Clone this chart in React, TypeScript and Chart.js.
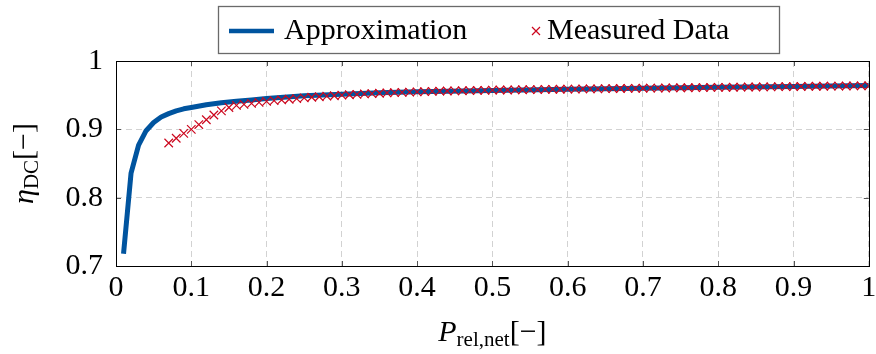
import React, { useEffect, useRef } from "react";
import { Chart, registerables } from "chart.js";
Chart.register(...registerables);

const approxP = [0.01, 0.02, 0.03, 0.04, 0.05, 0.06, 0.07, 0.08, 0.09, 0.10, 0.12, 0.14, 0.16, 0.18, 0.20, 0.25, 0.30, 0.35, 0.40, 0.50, 0.60, 0.70, 0.80, 0.90, 1.00];
const approxEta = [0.718, 0.836, 0.877, 0.898, 0.910, 0.918, 0.923, 0.927, 0.930, 0.932, 0.936, 0.939, 0.941, 0.943, 0.945, 0.949, 0.9515, 0.9535, 0.955, 0.957, 0.9588, 0.9602, 0.9615, 0.9628, 0.964];

const measuredP = [
  0.07, 0.08, 0.09, 0.10, 0.11, 0.12, 0.13, 0.14, 0.15, 0.16, 0.17, 0.18, 0.19, 0.20,
  0.21, 0.22, 0.23, 0.24, 0.25, 0.26, 0.27, 0.28, 0.29, 0.30, 0.31, 0.32, 0.33, 0.34,
  0.35, 0.36, 0.37, 0.38, 0.39, 0.40, 0.41, 0.42, 0.43, 0.44, 0.45, 0.46, 0.47, 0.48,
  0.49, 0.50, 0.51, 0.52, 0.53, 0.54, 0.55, 0.56, 0.57, 0.58, 0.59, 0.60, 0.61, 0.62,
  0.63, 0.64, 0.65, 0.66, 0.67, 0.68, 0.69, 0.70, 0.71, 0.72, 0.73, 0.74, 0.75, 0.76,
  0.77, 0.78, 0.79, 0.80, 0.81, 0.82, 0.83, 0.84, 0.85, 0.86, 0.87, 0.88, 0.89, 0.90,
  0.91, 0.92, 0.93, 0.94, 0.95, 0.96, 0.97, 0.98, 0.99, 1.00,
];
const measuredEta = [
  0.880, 0.887, 0.894, 0.900, 0.907, 0.914, 0.921, 0.927, 0.932, 0.935, 0.9365, 0.938, 0.9395, 0.941,
  0.942, 0.943, 0.944, 0.945, 0.946, 0.947, 0.9477, 0.9485, 0.9492, 0.950, 0.9506, 0.9512, 0.9518, 0.9523,
  0.9528, 0.9533, 0.9537, 0.9541, 0.9545, 0.9549, 0.9552, 0.9555, 0.9558, 0.9561, 0.9563, 0.9565, 0.9567, 0.9569,
  0.9571, 0.9573, 0.9575, 0.9576, 0.9578, 0.9579, 0.9581, 0.9582, 0.9584, 0.9585, 0.9587, 0.9588, 0.9589, 0.9591,
  0.9592, 0.9593, 0.9595, 0.9596, 0.9597, 0.9599, 0.9600, 0.9601, 0.9603, 0.9604, 0.9605, 0.9606, 0.9608, 0.9609,
  0.9610, 0.9611, 0.9613, 0.9614, 0.9615, 0.9616, 0.9618, 0.9619, 0.9620, 0.9621, 0.9622, 0.9624, 0.9625, 0.9626,
  0.9627, 0.9628, 0.9630, 0.9631, 0.9632, 0.9633, 0.9634, 0.9635, 0.9637, 0.9638,
];

const xTickValues = [0, 0.1, 0.2, 0.3, 0.4, 0.5, 0.6, 0.7, 0.8, 0.9, 1];
const xTickLabels = ["0", "0.1", "0.2", "0.3", "0.4", "0.5", "0.6", "0.7", "0.8", "0.9", "1"];
const yTickValues = [0.7, 0.8, 0.9, 1];
const yTickLabels = ["0.7", "0.8", "0.9", "1"];

const seriesLabels = ["Approximation", "Measured Data"];
const BLUE = "#00549F";
const RED = "#CC071E";
const FONT = "'Liberation Serif', 'Times New Roman', serif";

type Part = { t: string; font: string; dy: number };

function drawParts(ctx: CanvasRenderingContext2D, parts: Part[], cx: number, baseY: number) {
  let total = 0;
  const widths = parts.map((p) => {
    ctx.font = p.font;
    const w = ctx.measureText(p.t).width;
    total += w;
    return w;
  });
  let x = cx - total / 2;
  parts.forEach((p, i) => {
    ctx.font = p.font;
    ctx.fillText(p.t, x, baseY + p.dy);
    x += widths[i];
  });
}

const decorPlugin = {
  id: "decor",
  afterDraw(chart: any) {
    const { ctx, chartArea } = chart;
    const { left, right, top, bottom } = chartArea;
    const xs = chart.scales.x;
    const ys = chart.scales.y;
    ctx.save();
    // inner ticks
    ctx.strokeStyle = "#555";
    ctx.lineWidth = 1;
    const tl = 5;
    ctx.beginPath();
    xTickValues.forEach((v) => {
      const px = Math.round(xs.getPixelForValue(v)) + 0.5;
      ctx.moveTo(px, bottom);
      ctx.lineTo(px, bottom - tl);
      ctx.moveTo(px, top);
      ctx.lineTo(px, top + tl);
    });
    yTickValues.forEach((v) => {
      const py = Math.round(ys.getPixelForValue(v)) + 0.5;
      ctx.moveTo(left, py);
      ctx.lineTo(left + tl, py);
      ctx.moveTo(right, py);
      ctx.lineTo(right - tl, py);
    });
    ctx.stroke();
    // frame
    ctx.strokeStyle = "#000";
    ctx.lineWidth = 1;
    ctx.strokeRect(Math.round(left) + 0.5, Math.round(top) + 0.5, Math.round(right - left), Math.round(bottom - top));

    // legend
    ctx.fillStyle = "#fff";
    ctx.fillRect(218.5, 6.5, 561, 47);
    ctx.strokeStyle = "#6a6a6a";
    ctx.lineWidth = 1.3;
    ctx.strokeRect(218.5, 6.5, 561, 47);
    ctx.strokeStyle = BLUE;
    ctx.lineWidth = 4.5;
    ctx.beginPath();
    ctx.moveTo(229, 31);
    ctx.lineTo(274, 31);
    ctx.stroke();
    ctx.fillStyle = "#000";
    ctx.textBaseline = "alphabetic";
    ctx.textAlign = "left";
    ctx.font = `30px ${FONT}`;
    ctx.fillText(seriesLabels[0], 284, 39);
    ctx.strokeStyle = RED;
    ctx.lineWidth = 1.2;
    ctx.beginPath();
    ctx.moveTo(532, 27);
    ctx.lineTo(540, 35);
    ctx.moveTo(540, 27);
    ctx.lineTo(532, 35);
    ctx.stroke();
    ctx.fillText(seriesLabels[1], 547, 39);

    // x title
    ctx.fillStyle = "#000";
    drawParts(
      ctx,
      [
        { t: "P", font: `italic 30px ${FONT}`, dy: 0 },
        { t: "rel,net", font: `21px ${FONT}`, dy: 5 },
        { t: "[−]", font: `30px ${FONT}`, dy: 0 },
      ],
      (left + right) / 2,
      341
    );
    // y title
    ctx.translate(33, (top + bottom) / 2);
    ctx.rotate(-Math.PI / 2);
    drawParts(
      ctx,
      [
        { t: "η", font: `italic 30px ${FONT}`, dy: 0 },
        { t: "DC", font: `21px ${FONT}`, dy: 5 },
        { t: "[−]", font: `30px ${FONT}`, dy: 0 },
      ],
      0,
      0
    );
    ctx.restore();
  },
};

export default function App() {
  const ref = useRef<HTMLCanvasElement | null>(null);
  useEffect(() => {
    document.body.style.margin = "0";
    const canvas = ref.current!;
    const chart = new Chart(canvas, {
      type: "line",
      data: {
        datasets: [
          {
            label: seriesLabels[1],
            data: measuredP.map((p, i) => ({ x: p, y: measuredEta[i] })),
            showLine: false,
            pointStyle: "crossRot",
            pointRadius: 6,
            pointBorderWidth: 1.2,
            borderColor: RED,
            backgroundColor: RED,
            order: 0,
          },
          {
            label: seriesLabels[0],
            data: approxP.map((p, i) => ({ x: p, y: approxEta[i] })),
            borderColor: BLUE,
            backgroundColor: BLUE,
            borderWidth: 5,
            pointRadius: 0,
            tension: 0,
            borderJoinStyle: "round",
            order: 1,
          },
        ],
      },
      options: {
        responsive: false,
        animation: false,
        events: [],
        layout: { padding: { left: 46, right: 6, top: 61, bottom: 0 } },
        plugins: { legend: { display: false }, tooltip: { enabled: false } },
        scales: {
          x: {
            type: "linear",
            min: 0,
            max: 1,
            afterBuildTicks: (s: any) => {
              s.ticks = xTickValues.map((v) => ({ value: v }));
            },
            afterFit: (s: any) => {
              s.height = 88;
              s.paddingLeft = 0;
              s.paddingRight = 0;
            },
            grid: { color: "#d2d2d2", lineWidth: 1, drawTicks: false },
            border: { display: false, dash: [6, 4] },
            ticks: {
              autoSkip: false,
              maxRotation: 0,
              padding: 4,
              color: "#000",
              font: { family: FONT, size: 30 },
              callback: (_v: any, i: number) => xTickLabels[i],
            },
          },
          y: {
            type: "linear",
            min: 0.7,
            max: 1,
            afterBuildTicks: (s: any) => {
              s.ticks = yTickValues.map((v) => ({ value: v }));
            },
            afterFit: (s: any) => {
              s.width = 70;
              s.paddingTop = 0;
              s.paddingBottom = 0;
            },
            grid: { color: "#d2d2d2", lineWidth: 1, drawTicks: false },
            border: { display: false, dash: [6, 4] },
            ticks: {
              autoSkip: false,
              padding: 13,
              color: "#000",
              font: { family: FONT, size: 30 },
              callback: (_v: any, i: number) => yTickLabels[i],
            },
          },
        },
      },
      plugins: [decorPlugin],
    } as any);
    return () => chart.destroy();
  }, []);
  return (
    <div style={{ width: 876, height: 354 }}>
      <canvas ref={ref} width={876} height={354} style={{ display: "block", width: 876, height: 354 }} />
    </div>
  );
}
